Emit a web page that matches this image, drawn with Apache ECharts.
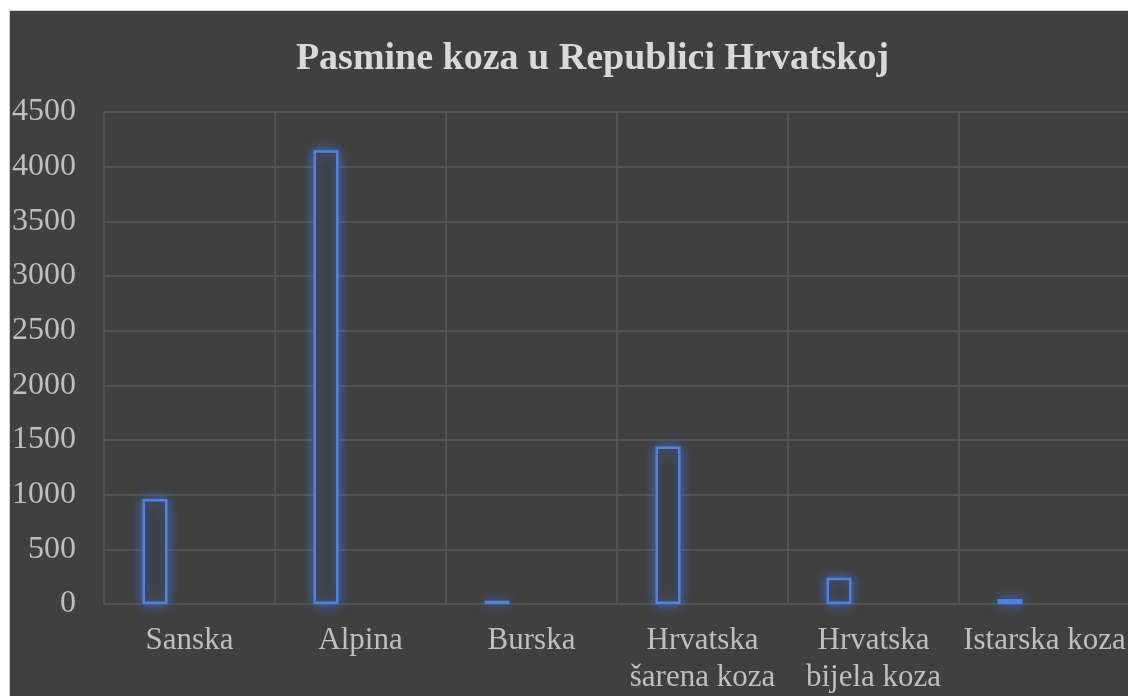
<!DOCTYPE html>
<html>
<head>
	<meta charset="utf-8">
	<title>Pasmine koza</title>
	<style>
		html, body { margin:0; padding:0; background:#ffffff; overflow:hidden; width:1128px; height:696px; }
		#chart1 { position:absolute; left:9px; top:10px; width:1166px; height:686px;
			background:#404040; border-left:1px solid #cfcfcf; border-top:1px solid #cfcfcf; box-sizing:border-box; }
	</style>
</head>

<body>
	<div id="chart1"></div>

	<script src="https://cdn.jsdelivr.net/npm/echarts@6/dist/echarts.min.js"></script>
	<script>

	// kategorije (pasmine) i broj grla
	var categories = ['Sanska', 'Alpina', 'Burska', 'Hrvatska\nšarena koza', 'Hrvatska\nbijela koza', 'Istarska koza'];
	var values = [960, 4150, 30, 1440, 240, 45];
	var yTicks = [0, 500, 1000, 1500, 2000, 2500, 3000, 3500, 4000, 4500];

	var myChart = echarts.init(document.getElementById('chart1'));

	var fontFam = '"Liberation Serif", "Times New Roman", serif';

	var option = {
		animation: false,
		title: {
			text: 'Pasmine koza u Republici Hrvatskoj',
			left: 'center',
			top: 29,
			padding: 0,
			textStyle: { fontFamily: fontFam, fontSize: 38, fontWeight: 'bold', color: '#d9d9d9' }
		},
		grid: { left: 94, top: 101, right: 45, bottom: 92, outerBoundsMode: 'none', containLabel: false },
		xAxis: {
			type: 'category',
			data: categories,
			boundaryGap: true,
			axisLine: { show: false },
			axisTick: { show: false },
			splitLine: { show: true, lineStyle: { color: '#595959', width: 1.5 } },
			axisLabel: {
				fontFamily: fontFam, fontSize: 31, color: '#bfbfbf',
				lineHeight: 37, margin: 18, interval: 0
			}
		},
		yAxis: {
			type: 'value',
			min: yTicks[0],
			max: yTicks[yTicks.length - 1],
			interval: 500,
			axisLine: { show: false },
			axisTick: { show: false },
			splitLine: { lineStyle: { color: '#595959', width: 1.5 } },
			axisLabel: {
				fontFamily: fontFam, fontSize: 32, color: '#bfbfbf', margin: 28,
				formatter: function (v) { return String(v); }
			}
		},
		series: [
			{
				type: 'bar',
				data: values,
				barWidth: 25,
				barGap: '176%',
				itemStyle: {
					color: '#3f3f3f',
					borderColor: '#4f82e0',
					borderWidth: 2.5,
					shadowBlur: 12,
					shadowColor: 'rgba(68,114,220,0.9)'
				}
			},
			{
				// prazna druga serija (kao u Excelu) - pomiče stupce ulijevo
				type: 'bar',
				data: [],
				barWidth: 25
			}
		]
	};

	myChart.setOption(option);

	</script>
</body>

</html>
